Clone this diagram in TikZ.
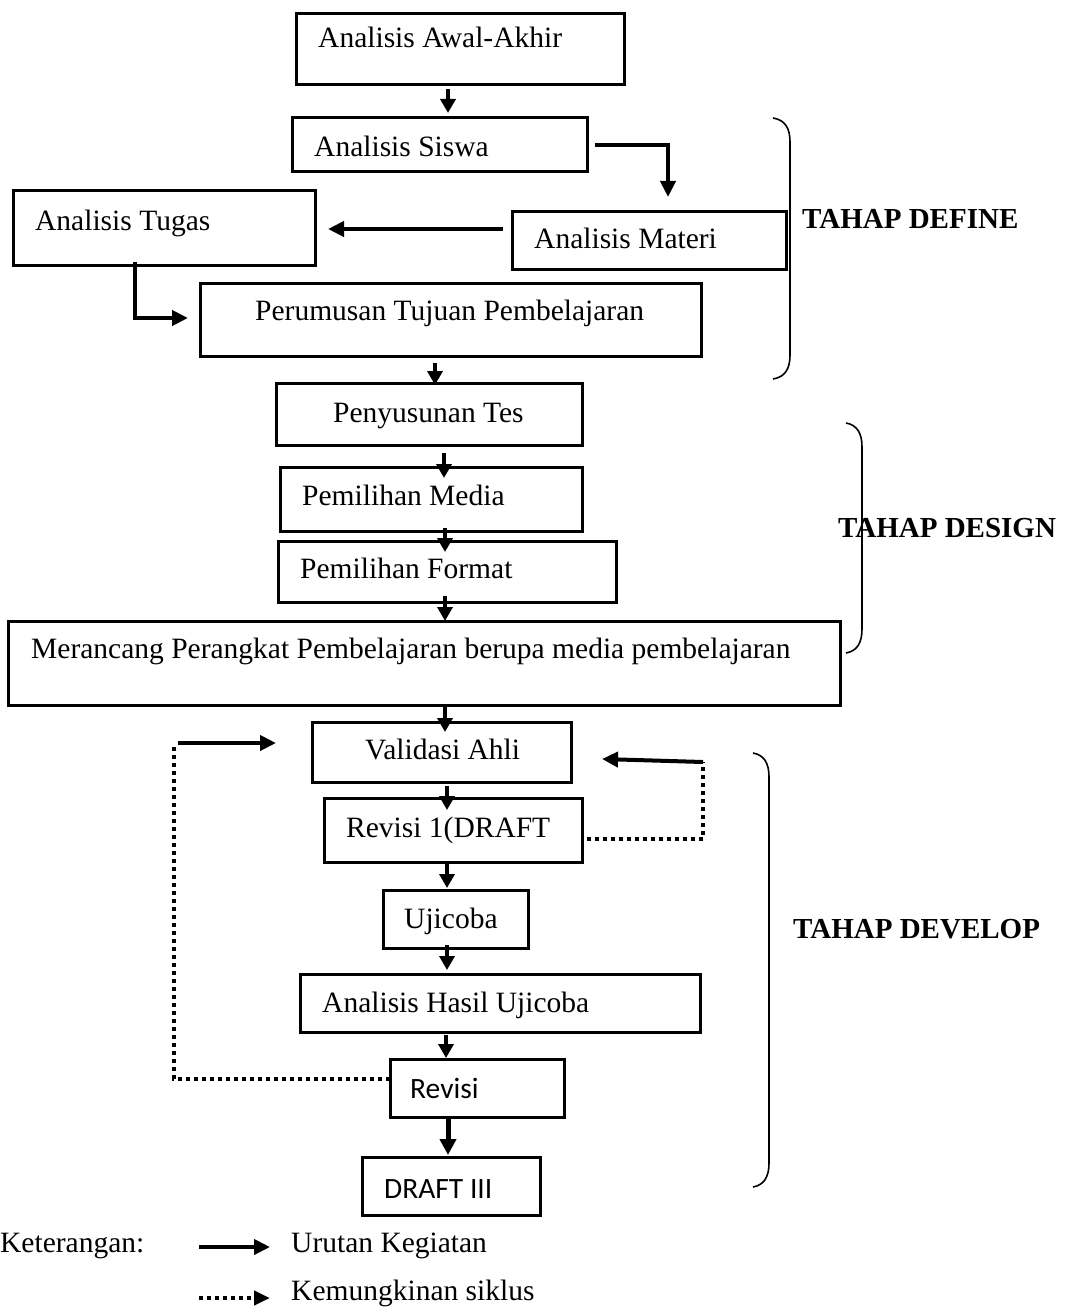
\documentclass[tikz,border=0pt]{standalone}
\usepackage{fontspec}
\setmainfont{Liberation Serif}
\newfontfamily\calibfont{Carlito}
\usetikzlibrary{arrows.meta,calc}
\begin{document}
\begin{tikzpicture}[x=1pt,y=-1pt,
  box/.style={draw,line width=3pt,rectangle,outer sep=0pt,inner sep=0pt},
  lbl/.style={anchor=base west,inner sep=0pt,font=\fontsize{29.5}{35}\selectfont},
  arr/.style={line width=3.5pt,-{Triangle[length=14pt,width=15pt]}},
  harr/.style={line width=4pt,-{Triangle[length=16pt,width=15pt]}},
  dots/.style={line width=4pt,dash pattern=on 4pt off 4pt},
  brc/.style={line width=1.6pt}]
\fill[white] (0,0) rectangle (1065,1308);
\useasboundingbox (0,0) rectangle (1065,1308);

% boxes
\node[box,minimum width=328pt,minimum height=71pt] (awal) at (460,49) {};
\node[box,minimum width=295pt,minimum height=54pt] (siswa) at (439.5,145) {};
\node[box,minimum width=302pt,minimum height=74pt] (tugas) at (164,228) {};
\node[box,minimum width=274pt,minimum height=58pt] (materi) at (649,240) {};
\node[box,minimum width=501pt,minimum height=73pt] (perumusan) at (450.5,319.5) {};
\node[box,minimum width=306pt,minimum height=62pt] (tes) at (429,414) {};
\node[box,minimum width=302pt,minimum height=64pt] (media) at (431,499) {};
\node[box,minimum width=338pt,minimum height=61pt] (format) at (447,571.5) {};
\node[box,minimum width=832pt,minimum height=84pt] (merancang) at (424,663) {};
\node[box,minimum width=259pt,minimum height=60pt] (validasi) at (441.5,752) {};
\node[box,minimum width=258pt,minimum height=64pt] (revisi1) at (453,830) {};
\node[box,minimum width=145pt,minimum height=58pt] (ujicoba) at (455.5,919) {};
\node[box,minimum width=400pt,minimum height=58pt] (hasil) at (500,1003) {};
\node[box,minimum width=174pt,minimum height=58pt] (revisi) at (477,1088) {};
\node[box,minimum width=178pt,minimum height=58pt] (draft) at (451,1186) {};

% texts
\node[lbl] (tawal) at (318,48) {Analisis Awal-Akhir};
\node[lbl] (tsiswa) at (314,157) {Analisis Siswa};
\node[lbl] (ttugas) at (35,230) {Analisis Tugas};
\node[lbl] (tmateri) at (534,248) {Analisis Materi};
\node[lbl] (tperumusan) at (255,320) {Perumusan Tujuan Pembelajaran};
\node[lbl] (ttes) at (333,422) {Penyusunan Tes};
\node[lbl] (tmedia) at (302,505) {Pemilihan Media};
\node[lbl] (tformat) at (300,578) {Pemilihan Format};
\node[lbl] (tmerancang) at (31,658) {Merancang Perangkat Pembelajaran berupa media pembelajaran};
\node[lbl] (tvalidasi) at (365,759) {Validasi Ahli};
\node[lbl] (trevisi1) at (346,837) {Revisi 1(DRAFT};
\node[lbl] (tujicoba) at (404,928) {Ujicoba};
\node[lbl] (thasil) at (322,1012) {Analisis Hasil Ujicoba};
\node[lbl,font=\calibfont\fontsize{29.5}{35}\selectfont] (trevisi) at (410,1098) {Revisi};
\node[lbl,font=\calibfont\fontsize{29.5}{35}\selectfont] (tdraft) at (384,1198) {DRAFT III};
\node[lbl,font=\bfseries\fontsize{29}{35}\selectfont] (define) at (802,228) {TAHAP DEFINE};
\node[lbl,font=\bfseries\fontsize{29}{35}\selectfont] (design) at (838,537) {TAHAP DESIGN};
\node[lbl,font=\bfseries\fontsize{29}{35}\selectfont] (develop) at (793,938) {TAHAP DEVELOP};
\node[lbl] (ket) at (0,1252) {Keterangan:};
\node[lbl] (urutan) at (291,1252) {Urutan Kegiatan};
\node[lbl] (siklus) at (291,1300) {Kemungkinan siklus};

% column / row helpers
\coordinate (c1) at (448,0);
\coordinate (c2) at (668,0);
\coordinate (r3) at (0,229);
\coordinate (c4) at (135,0);
\coordinate (r5) at (0,318);
\coordinate (c6) at (435,0);
\coordinate (c7) at (444,0);
\coordinate (c8) at (445,0);
\coordinate (c9) at (447,0);
\coordinate (c10) at (446,0);
\coordinate (r11) at (0,839);
\coordinate (ra) at (703,762);
\coordinate (r12) at (0,1079);
\coordinate (la) at (174,743);

% flow arrows
\draw[arr] ($(awal.south -| c1)+(0,5)$) -- ($(siswa.north -| c1)+(0,-5)$);
\draw[harr] ($(siswa.east)+(8,0)$) -| ($(materi.north -| c2)+(0,-14)$);
\draw[harr] ($(materi.west |- r3)+(-9,0)$) -- ($(tugas.east |- r3)+(13,0)$);
\draw[harr] ($(tugas.south -| c4)+(0,-3)$) |- ($(perumusan.west |- r5)+(-12,0)$);
\draw[arr] ($(perumusan.south -| c6)+(0,7)$) -- ($(tes.north -| c6)+(0,2)$);
\draw[arr] ($(tes.south -| c7)+(0,8)$) -- ($(media.north -| c7)+(0,11)$);
\draw[arr] ($(media.south -| c8)+(0,-3)$) -- ($(format.north -| c8)+(0,11)$);
\draw[arr] ($(format.south -| c8)+(0,-6)$) -- ($(merancang.north -| c8)+(0,0)$);
\draw[arr] ($(merancang.south -| c8)+(0,2)$) -- ($(validasi.north -| c8)+(0,10)$);
\draw[arr] ($(validasi.south -| c9)+(0,4)$) -- ($(revisi1.north -| c9)+(0,12)$);
\draw[arr] ($(revisi1.south -| c9)+(0,2)$) -- ($(ujicoba.north -| c9)+(0,-2)$);
\draw[arr] ($(ujicoba.south -| c9)+(0,-3)$) -- ($(hasil.north -| c9)+(0,-4)$);
\draw[arr] ($(hasil.south -| c10)+(0,3)$) -- ($(revisi.north -| c10)+(0,-1)$);
\draw[line width=5pt,-{Triangle[length=16pt,width=16pt]}] ($(revisi.south -| c1)$) -- ($(draft.north -| c1)+(0,-2)$);

% cycle loops
\draw[dots] ($(revisi1.east |- r11)+(5,0)$) -| (ra);
\draw[harr] (ra) -- ($(validasi.east)+(31,7)$);
\draw[dots] (revisi.west |- r12) -| ($(la)+(0,2)$);
\draw[harr] ($(la)+(4,0)$) -- ($(validasi.west |- la)+(-36,0)$);

% braces
\draw[brc] (773,118) .. controls (785,120) and (790,128) .. (790,142) -- (790,355) .. controls (790,369) and (785,377) .. (773,379);
\draw[brc] (846,423) .. controls (857,425) and (862,433) .. (862,447) -- (862,629) .. controls (862,643) and (857,651) .. (846,653);
\draw[brc] (753,753) .. controls (764,755) and (769,763) .. (769,777) -- (769,1163) .. controls (769,1177) and (764,1185) .. (753,1187);

% legend
\coordinate (l1a) at (199,1247);
\coordinate (l1b) at (270,1247);
\coordinate (l2a) at (199,1298);
\coordinate (l2b) at (270,1298);
\draw[harr] (l1a) -- (l1b);
\draw[dots,-{Triangle[length=16pt,width=14pt]}] (l2a) -- (l2b);
\end{tikzpicture}
\end{document}
